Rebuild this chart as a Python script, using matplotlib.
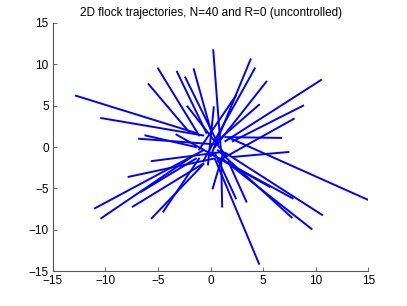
import numpy as np
import matplotlib
matplotlib.use('Agg')
import matplotlib.pyplot as plt

# start (inner) and end (outer) points of each trajectory
x_start = [-1.4, -0.7, -2.1, -1.1, -0.4, 0.7, 0.0, 1.0, 0.0, -0.7,
           0.4, 1.4, 2.1, 0.7, 1.4, 2.1, 1.8, 1.4, 1.1, 0.7,
           0.0, -3.25, 1.7, 0.4, 1.0, 1.2, 0.4, -0.7, -1.1, -0.7,
           -1.7, -0.7, 0.3, -1.4, 1.1, 0.7, -1.4, 1.5, -0.25, -1.1,
           0.7]
y_start = [1.7, 1.4, 1.9, 1.4, 1.7, 0.4, 2.1, -0.75, -1.1, -1.7,
           0.0, 0.7, 0.7, -1.7, 1.2, -1.2, 1.1, -0.7, -1.4, -0.4,
           -0.8, 1.5, -1.8, -0.7, -1.4, -0.7, -1.4, -2.1, -1.4, -2.0,
           -1.1, -0.4, -1.4, -1.4, -0.6, 0.3, 0.0, -1.1, -2.1, -0.3,
           0.8]
x_end = [-12.8, -10.4, -5.9, -5.0, -3.2, -2.4, -1.6, 0.25, 3.8, 4.2,
         5.3, 10.5, 8.8, 7.9, 6.7, 7.4, 15.0, 10.6, 9.6, 7.7,
         7.8, 5.6, 3.4, 2.4, 1.1, 0.2, 4.6, -5.6, -4.5, -7.4,
         -10.4, -11.0, -7.8, -6.6, -5.6, -6.8, -6.2, -2.2, 0.3, 2.4,
         4.6]
y_end = [6.2, 3.5, 7.6, 9.5, 9.1, 8.4, 9.4, 11.7, 10.6, 9.5,
         7.9, 8.1, 5.0, 3.4, 1.1, -0.6, -6.4, -8.2, -9.9, -8.5,
         -6.2, -4.8, -6.6, -6.2, -7.2, -5.0, -14.1, -8.6, -7.8, -7.2,
         -8.6, -7.4, -3.6, -5.4, -1.7, 1.0, 1.4, 4.9, 4.8, 6.2,
         5.1]

plt.rcParams['font.family'] = ['Liberation Sans', 'DejaVu Sans']
plt.rcParams['font.size'] = 8.5

fig = plt.figure(figsize=(4.07, 3.06), dpi=100)
ax = fig.add_axes([0.13, 0.114, 0.775, 0.811])

for i in range(len(x_start)):
    ax.plot([x_start[i], x_end[i]], [y_start[i], y_end[i]], color=(0, 0, 1), linewidth=1.4)

ax.set_xlim(-15, 15)
ax.set_ylim(-15, 15)
ax.set_xticks(np.arange(-15, 16, 5))
ax.set_yticks(np.arange(-15, 16, 5))
ax.set_xticklabels(['\u221215', '\u221210', '\u22125', '0', '5', '10', '15'])
ax.set_yticklabels(['\u221215', '\u221210', '\u22125', '0', '5', '10', '15'])
ax.spines['top'].set_visible(False)
ax.spines['right'].set_visible(False)
for s in ['left', 'bottom']:
    ax.spines[s].set_color('#555555')
    ax.spines[s].set_linewidth(0.8)
ax.tick_params(direction='in', length=3, width=0.6, colors='#555555', labelcolor='black', pad=3)
ax.set_title('2D flock trajectories, N=40 and R=0 (uncontrolled)', fontsize=8.5, pad=5)

plt.savefig('out.png', dpi=100)
